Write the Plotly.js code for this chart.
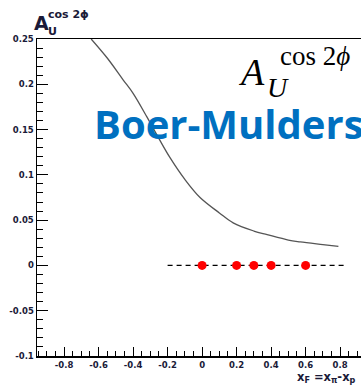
<!DOCTYPE html>
<html>
<head>
<meta charset="utf-8">
<script src="https://cdn.plot.ly/plotly-3.0.1.min.js"></script>
<style>html,body{margin:0;padding:0;background:#fff;}#chart{width:361px;height:391px;}</style>
</head>
<body>
<div id="chart"></div>
<script>
// Boer-Mulders model curve
const curveX = [-0.643, -0.55, -0.458, -0.4, -0.32, -0.25, -0.186, -0.1, -0.012, 0.1, 0.18, 0.3, 0.377, 0.5, 0.568, 0.7, 0.79];
const curveY = [0.25, 0.229, 0.205, 0.19, 0.164, 0.14, 0.119, 0.095, 0.075, 0.058, 0.047, 0.038, 0.034, 0.028, 0.026, 0.023, 0.021];
// projected data points
const pointX = [0, 0.2, 0.3, 0.4, 0.6];
const pointY = [0, 0, 0, 0, 0];
// zero reference line
const zeroX = [-0.2, 0.83];
const zeroY = [0, 0];
// tick labels
const yTickVals = [0.25, 0.2, 0.15, 0.1, 0.05, 0, -0.05, -0.1];
const yTickText = ['0.25', '0.2', '0.15', '0.1', '0.05', '0', '-0.05', '-0.1'];
const xTickVals = [-0.8, -0.6, -0.4, -0.2, 0, 0.2, 0.4, 0.6, 0.8];
const xTickText = ['-0.8', '-0.6', '-0.4', '-0.2', '0', '0.2', '0.4', '0.6', '0.8'];

const navy = '#1a1a38';
const tickFont = {family: 'DejaVu Sans', size: 8.5, color: navy, weight: 'bold'};

const traces = [
  {x: curveX, y: curveY, mode: 'lines', line: {color: '#555555', width: 1.3, shape: 'spline'}, hoverinfo: 'skip'},
  {x: zeroX, y: zeroY, mode: 'lines', line: {color: '#000000', width: 1.2, dash: '5px,4px'}, hoverinfo: 'skip'},
  {x: pointX, y: pointY, mode: 'markers', marker: {color: '#ff0000', size: 9}, hoverinfo: 'skip'}
];

const layout = {
  width: 361, height: 391,
  margin: {l: 37, r: 0, t: 39, b: 35},
  paper_bgcolor: '#ffffff', plot_bgcolor: '#ffffff',
  showlegend: false,
  xaxis: {
    range: [-0.957, 0.921], showgrid: false, zeroline: false,
    showline: true, linecolor: '#000', linewidth: 1.5, mirror: true,
    ticks: 'inside', ticklen: 9, tickcolor: '#000', tickwidth: 1,
    tickmode: 'array', tickvals: xTickVals, ticktext: xTickText,
    tickfont: tickFont,
    minor: {dtick: 0.05, tick0: 0, ticks: 'inside', ticklen: 5, tickcolor: '#000', showgrid: false}
  },
  yaxis: {
    range: [-0.1, 0.25], showgrid: false, zeroline: false,
    showline: true, linecolor: '#000', linewidth: 1.5,
    ticks: 'inside', ticklen: 11, tickcolor: '#000', tickwidth: 1,
    tickmode: 'array', tickvals: yTickVals, ticktext: yTickText,
    tickfont: tickFont,
    minor: {dtick: 0.01, tick0: 0, ticks: 'inside', ticklen: 6, tickcolor: '#000', showgrid: false}
  },
  annotations: [
    // axis title at top-left
    {xref: 'paper', yref: 'paper', x: -0.015, y: 1.050, xanchor: 'left', yanchor: 'middle', showarrow: false,
     text: 'A', font: {family: 'DejaVu Sans', size: 19, color: navy, weight: 'bold'}},
    {xref: 'paper', yref: 'paper', x: 0.028, y: 1.076, xanchor: 'left', yanchor: 'middle', showarrow: false,
     text: 'cos 2ϕ', font: {family: 'DejaVu Sans', size: 11, color: navy, weight: 'bold'}},
    {xref: 'paper', yref: 'paper', x: 0.028, y: 1.025, xanchor: 'left', yanchor: 'middle', showarrow: false,
     text: 'U', font: {family: 'DejaVu Sans', size: 11, color: navy, weight: 'bold'}},
    // x-axis title
    {xref: 'paper', yref: 'paper', x: 0.992, y: -0.069, xanchor: 'right', yanchor: 'middle', showarrow: false,
     text: 'x<sub>F</sub> =x<sub>π</sub>-x<sub>p</sub>', font: {family: 'DejaVu Sans', size: 11.5, color: navy, weight: 'bold'}},
    // big LaTeX label
    {xref: 'paper', yref: 'paper', x: 0.615, y: 0.896, xanchor: 'left', yanchor: 'middle', showarrow: false,
     text: '<i>A</i>', font: {family: 'Liberation Serif', size: 38, color: '#000'}},
    {xref: 'paper', yref: 'paper', x: 0.743, y: 0.946, xanchor: 'left', yanchor: 'middle', showarrow: false,
     text: 'cos 2<i>ϕ</i>', font: {family: 'Liberation Serif', size: 27, color: '#000'}},
    {xref: 'paper', yref: 'paper', x: 0.703, y: 0.848, xanchor: 'left', yanchor: 'middle', showarrow: false,
     text: '<i>U</i>', font: {family: 'Liberation Serif', size: 28, color: '#000'}},
    // Boer-Mulders
    {xref: 'paper', yref: 'paper', x: 1.016, y: 0.732, xanchor: 'right', yanchor: 'middle', showarrow: false,
     text: 'Boer-Mulders', font: {family: 'Open Sans', size: 40, color: '#0070c0', weight: 'bold'}}
  ]
};

Plotly.newPlot('chart', traces, layout, {displayModeBar: false, staticPlot: true});
</script>
</body>
</html>
